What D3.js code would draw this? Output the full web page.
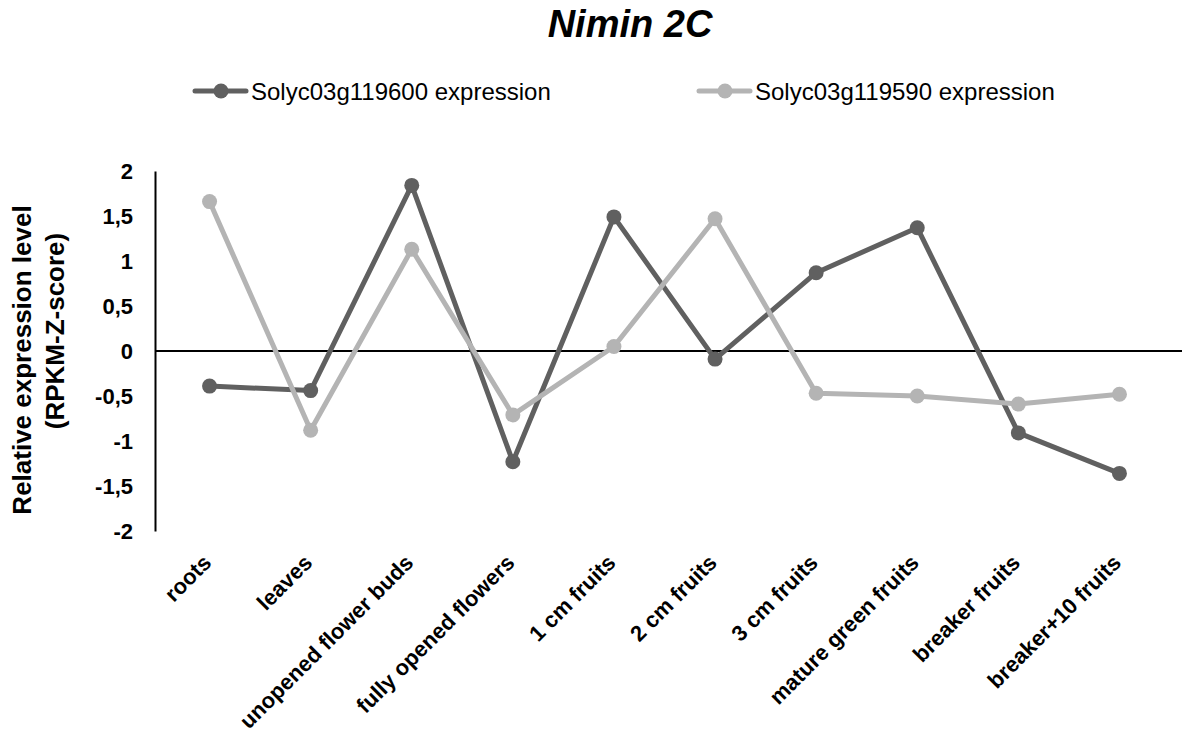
<!DOCTYPE html>
<html>
<head>
<meta charset="utf-8">
<script src="https://cdn.jsdelivr.net/npm/d3@7"></script>
<style>
  body { margin: 0; background: #fff; }
  svg { font-family: "Liberation Sans", Arial, sans-serif; }
</style>
</head>
<body>
<div id="chart"></div>
<script>
//data
var tissues = ['roots', 'leaves', 'unopened flower buds', 'fully opened flowers', '1 cm fruits',
    '2 cm fruits', '3 cm fruits', 'mature green fruits', 'breaker fruits', 'breaker+10 fruits'];

var gene600 = [-0.39, -0.44, 1.84, -1.23, 1.49, -0.09, 0.87, 1.37, -0.91, -1.36];
var gene590 = [1.66, -0.88, 1.13, -0.71, 0.05, 1.47, -0.47, -0.50, -0.59, -0.48];

var seriesNames = ['Solyc03g119600 expression', 'Solyc03g119590 expression'];
var yTicks = [-2, -1.5, -1, -0.5, 0, 0.5, 1, 1.5, 2];

//sizes
var outerW = 1182,
    outerH = 742;

var margin = {top: 171, right: 12, bottom: 211, left: 155};

var w = outerW - margin.left - margin.right,
    h = outerH - margin.top - margin.bottom;

var colors = ['#606060', '#b4b4b4'];

var svg = d3.select('#chart').append('svg')
    .attr('width', outerW)
    .attr('height', outerH);

//title
svg.append('text')
    .attr('x', 630)
    .attr('y', 37)
    .attr('text-anchor', 'middle')
    .style('font-size', '38px')
    .style('font-weight', 'bold')
    .style('font-style', 'italic')
    .text('Nimin 2C');

//scales
var xScale = d3.scaleBand()
    .domain(tissues)
    .range([4, 1015]);

var yScale = d3.scaleLinear()
    .domain([-2, 2])
    .range([h, 0]);

var g = svg.append('g')
    .attr('transform', 'translate(' + margin.left + ', ' + margin.top + ')');

//y axis
var yAxis = d3.axisLeft(yScale)
    .tickValues(yTicks)
    .tickSize(0)
    .tickPadding(22)
    .tickFormat(function(d) {
        return String(d).replace('.', ',');
    });

var yAxisG = g.append('g')
    .call(yAxis);

yAxisG.select('.domain')
    .attr('stroke', '#000')
    .attr('stroke-width', 2);

yAxisG.selectAll('text')
    .style('font-size', '22px')
    .style('font-weight', 'bold')
    .attr('fill', '#000');

//zero line
g.append('line')
    .attr('x1', 0)
    .attr('x2', outerW - margin.left)
    .attr('y1', yScale(0))
    .attr('y2', yScale(0))
    .attr('stroke', '#000')
    .attr('stroke-width', 2);

//x labels
g.selectAll('.x-label')
    .data(tissues)
    .enter().append('text')
    .attr('class', 'x-label')
    .attr('text-anchor', 'end')
    .attr('transform', function(d) {
        var x = xScale(d) + xScale.bandwidth() / 2 + 3;
        return 'translate(' + x + ', ' + (h + 33) + ') rotate(-45)';
    })
    .style('font-size', '22px')
    .style('font-weight', 'bold')
    .text(function(d) { return d; });

//y axis title, two lines
var yTitleLines = ['Relative expression level', '(RPKM-Z-score)'];
var yTitlePos = [[31, 360], [64, 331]];

yTitleLines.forEach(function(t, k) {
    svg.append('text')
        .attr('transform', 'translate(' + yTitlePos[k][0] + ', ' + yTitlePos[k][1] + ') rotate(-90)')
        .attr('text-anchor', 'middle')
        .style('font-size', '26px')
        .style('font-weight', 'bold')
        .text(t);
});

//lines
var line = d3.line()
    .x(function(d, i) { return xScale(tissues[i]) + xScale.bandwidth() / 2; })
    .y(function(d) { return yScale(d); });

[gene600, gene590].forEach(function(values, k) {
    var seriesG = g.append('g');

    seriesG.append('path')
        .datum(values)
        .attr('d', line)
        .attr('fill', 'none')
        .attr('stroke', colors[k])
        .attr('stroke-width', 5)
        .attr('stroke-linejoin', 'round');

    seriesG.selectAll('circle')
        .data(values)
        .enter().append('circle')
        .attr('cx', function(d, i) { return xScale(tissues[i]) + xScale.bandwidth() / 2; })
        .attr('cy', function(d) { return yScale(d); })
        .attr('r', 7.5)
        .attr('fill', colors[k]);
});

//legend
var legendX = [193, 697];

seriesNames.forEach(function(name, k) {
    var lg = svg.append('g')
        .attr('transform', 'translate(' + legendX[k] + ', 91)');

    lg.append('line')
        .attr('x1', 2)
        .attr('x2', 53)
        .attr('stroke', colors[k])
        .attr('stroke-width', 5)
        .attr('stroke-linecap', 'round');

    lg.append('circle')
        .attr('cx', 28)
        .attr('r', 7.5)
        .attr('fill', colors[k]);

    lg.append('text')
        .attr('x', 58)
        .attr('y', 8.5)
        .style('font-size', '24px')
        .text(name);
});
</script>
</body>
</html>
